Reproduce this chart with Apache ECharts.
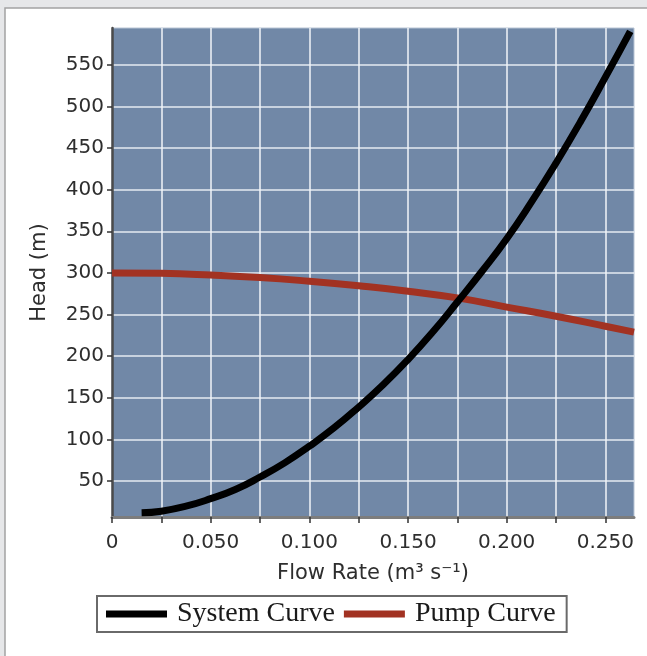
<!DOCTYPE html>
<html>
<head>
<meta charset="utf-8">
<script src="https://cdn.jsdelivr.net/npm/echarts@6/dist/echarts.min.js"></script>
<style>
html,body{margin:0;padding:0;background:#e6e7e9;}
#c{width:647px;height:656px;}
</style>
</head>
<body>
<div id="c"></div>
<script>
// Data
const systemFlow = [0.015, 0.025, 0.0375, 0.05, 0.0625, 0.075, 0.0875, 0.1, 0.1125, 0.125, 0.1375, 0.15, 0.1625, 0.175, 0.1875, 0.2, 0.2125, 0.225, 0.2375, 0.25, 0.2626];
const systemHead = [12, 14, 20, 29, 40, 55, 72, 92, 114, 139, 166, 196, 229, 265, 302, 341, 385, 432, 482, 535, 590];
const pumpFlow = [0, 0.025, 0.05, 0.075, 0.1, 0.125, 0.15, 0.175, 0.2, 0.225, 0.25, 0.2645];
const pumpHead = [300, 299.5, 297.5, 294.5, 290, 284.5, 278, 270, 259, 248, 236, 229];
const xTicks = [0, 0.025, 0.05, 0.075, 0.1, 0.125, 0.15, 0.175, 0.2, 0.225, 0.25];
const xLabels = [0, 0.05, 0.1, 0.15, 0.2, 0.25];
const yTicks = [50, 100, 150, 200, 250, 300, 350, 400, 450, 500, 550];
const seriesNames = ['System Curve', 'Pump Curve'];

const sysData = systemFlow.map((q, i) => [q, systemHead[i]]);
const pumpData = pumpFlow.map((q, i) => [q, pumpHead[i]]);

const chart = echarts.init(document.getElementById('c'), null, {renderer: 'canvas'});
const labelFont = {fontFamily: 'DejaVu Sans', fontSize: 20, color: '#2e2e2e'};
const nameFont = {fontFamily: 'DejaVu Sans', fontSize: 21, color: '#2e2e2e'};
chart.setOption({
  backgroundColor: '#e6e7e9',
  animation: false,
  graphic: [{
    type: 'rect', z: -10, silent: true,
    shape: {x: 5, y: 8, width: 700, height: 700},
    style: {fill: '#ffffff', stroke: '#a3a3a3', lineWidth: 1.5}
  }],
  grid: {
    left: 112, top: 28, right: 13, bottom: 139,
    show: true, backgroundColor: '#7188a7', borderWidth: 1, borderColor: '#b8c4d4'
  },
  legend: {
    left: 97, top: 596,
    padding: [4, 11, 4, 9],
    itemWidth: 61, itemHeight: 7, itemGap: 9,
    borderColor: '#6a6a6a', borderWidth: 2,
    icon: 'rect',
    textStyle: {fontFamily: 'Liberation Serif', fontSize: 28, color: '#1a1a1a', padding: [0, 0, 0, 5]},
    data: seriesNames
  },
  xAxis: {
    type: 'value', min: 0, max: 0.2645,
    name: 'Flow Rate (m³ s⁻¹)', nameLocation: 'middle', nameGap: 46,
    nameTextStyle: nameFont,
    axisLine: {show: true, onZero: false, lineStyle: {color: '#7d7d7d', width: 3}},
    axisTick: {show: true, inside: false, length: 6, customValues: xTicks, lineStyle: {color: '#333', width: 1.5}},
    axisLabel: Object.assign({margin: 16, customValues: xLabels,
      formatter: v => v === 0 ? '0' : v.toFixed(3)}, labelFont),
    splitLine: {show: true, lineStyle: {color: '#f2f4f8', width: 1.5}}
  },
  yAxis: {
    type: 'value', min: 7, max: 594,
    name: 'Head (m)', nameLocation: 'middle', nameGap: 62,
    nameTextStyle: nameFont,
    axisLine: {show: true, onZero: false, lineStyle: {color: '#4a4a4a', width: 2.5}},
    axisTick: {show: true, inside: false, length: 5, customValues: yTicks, lineStyle: {color: '#333', width: 1.5}},
    axisLabel: Object.assign({margin: 8, customValues: yTicks}, labelFont),
    splitLine: {show: true, lineStyle: {color: '#e6ebf2', width: 1.5}}
  },
  series: [{
    name: seriesNames[0], type: 'line', data: sysData, smooth: 0.5, showSymbol: false,
    lineStyle: {color: '#000000', width: 7}, itemStyle: {color: '#000000'}, z: 3
  }, {
    name: seriesNames[1], type: 'line', data: pumpData, smooth: 0.5, showSymbol: false,
    lineStyle: {color: '#a23222', width: 7}, itemStyle: {color: '#a23222'}, z: 2
  }]
});
</script>
</body>
</html>
